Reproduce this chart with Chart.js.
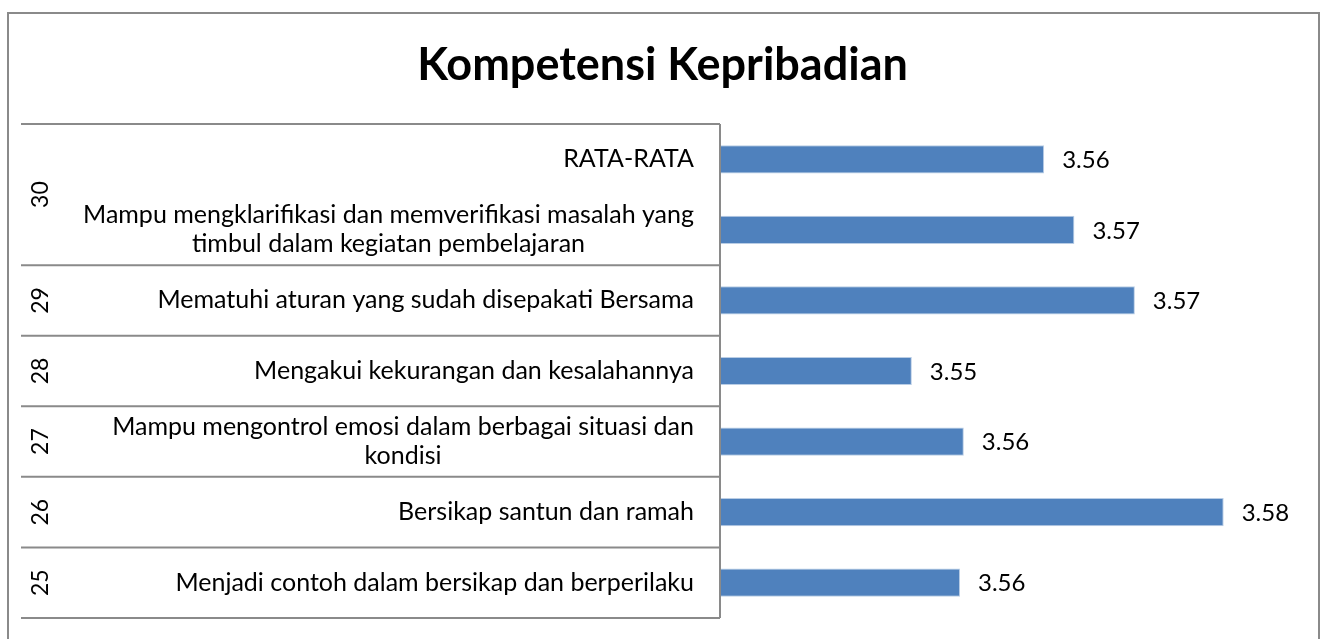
<!DOCTYPE html>
<html>
<head>
<meta charset="utf-8">
<script src="https://cdn.jsdelivr.net/npm/chart.js@4"></script>
<style>
  html, body { margin: 0; padding: 0; background: #fff; }
  #wrap { width: 1325px; height: 639px; }
</style>
</head>
<body>
<div id="wrap"><canvas id="chart" width="1325" height="639"></canvas></div>
<script>
// data, top to bottom as in the picture
const categories = [
  ['RATA-RATA'],
  ['Mampu mengklarifikasi dan memverifikasi masalah yang', 'timbul dalam kegiatan pembelajaran'],
  ['Mematuhi aturan yang sudah disepakati Bersama'],
  ['Mengakui kekurangan dan kesalahannya'],
  ['Mampu mengontrol emosi dalam berbagai situasi dan', 'kondisi'],
  ['Bersikap santun dan ramah'],
  ['Menjadi contoh dalam bersikap dan berperilaku'],
];
const categoryGroups = ['30', '30', '29', '28', '27', '26', '25'];
const scores = [3.5643, 3.5675, 3.5739, 3.5503, 3.5558, 3.5833, 3.5554];

const labelFont = '25px Lato';
const numFont = '23px Lato';
const lineCol = '#8a8a8a';

// draws the framed box, two-level category axis and value labels
const excelLook = {
  id: 'excelLook',
  afterDraw(chart) {
    const c = chart.ctx;
    const area = chart.chartArea;
    const y = chart.scales.y;
    const step = (area.bottom - area.top) / categories.length;
    const textRight = area.left - 26;

    c.save();
    // outer frame
    c.strokeStyle = lineCol;
    c.lineWidth = 2;
    c.strokeRect(8, 13, 1311, 700);

    // axis line
    c.beginPath();
    c.moveTo(area.left, area.top);
    c.lineTo(area.left, area.bottom);
    c.stroke();

    // group separators
    c.beginPath();
    c.moveTo(21, area.top);
    c.lineTo(area.left, area.top);
    for (let i = 0; i < categories.length; i++) {
      const last = i == categories.length - 1;
      if (last || categoryGroups[i] != categoryGroups[i + 1]) {
        const yy = area.top + step * (i + 1);
        c.moveTo(21, yy);
        c.lineTo(area.left, yy);
      }
    }
    c.stroke();

    // category labels: block right aligned, lines centred inside it
    c.fillStyle = '#000';
    c.font = labelFont;
    c.textBaseline = 'middle';
    c.textAlign = 'center';
    categories.forEach((lines, i) => {
      const cy = y.getPixelForValue(i);
      const w = Math.max(...lines.map((l) => c.measureText(l).width));
      const cx = textRight - w / 2;
      const lh = 29;
      lines.forEach((l, j) => {
        c.fillText(l, cx, cy + (j - (lines.length - 1) / 2) * lh);
      });
    });

    // group labels, rotated
    c.font = numFont;
    let start = 0;
    for (let i = 0; i < categories.length; i++) {
      const last = i == categories.length - 1;
      if (last || categoryGroups[i] != categoryGroups[i + 1]) {
        const cy = area.top + step * (start + i + 1) / 2;
        c.save();
        c.translate(41, cy);
        c.rotate(-Math.PI / 2);
        c.fillText(categoryGroups[i], 0, 0);
        c.restore();
        start = i + 1;
      }
    }

    // value labels
    c.font = '24px Lato';
    c.textAlign = 'left';
    chart.getDatasetMeta(0).data.forEach((bar, i) => {
      c.fillText(scores[i].toFixed(2), bar.x + 18, bar.y + 1);
    });
    c.restore();
  },
};

new Chart(document.getElementById('chart'), {
  type: 'bar',
  data: {
    labels: categories,
    datasets: [{
      data: scores,
      backgroundColor: '#4f81bd',
      borderColor: '#b9cde5',
      borderWidth: 1,
      barPercentage: 0.4,
      categoryPercentage: 1,
    }],
  },
  options: {
    indexAxis: 'y',
    responsive: false,
    animation: false,
    layout: { padding: { left: 38, right: 38, bottom: 21 } },
    plugins: {
      legend: { display: false },
      tooltip: { enabled: false },
      title: {
        display: true,
        text: 'Kompetensi Kepribadian',
        color: '#000',
        font: { family: 'Lato', size: 45, weight: 'bold', lineHeight: 1.2 },
        padding: { top: 38, bottom: 32 },
      },
    },
    scales: {
      x: { display: false, min: 3.53, max: 3.59 },
      y: {
        display: true,
        grid: { display: false },
        border: { display: false },
        ticks: { display: false },
        afterFit: (s) => { s.width = 682; },
      },
    },
  },
  plugins: [excelLook],
});
</script>
</body>
</html>
